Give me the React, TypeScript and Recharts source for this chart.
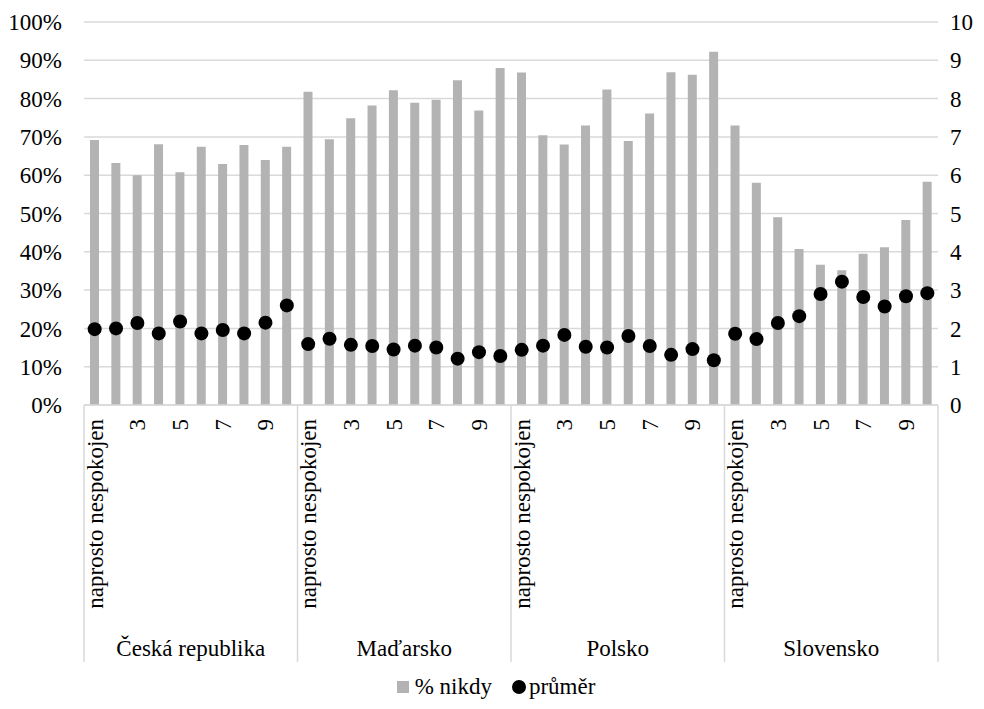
import React from 'react'
import { ComposedChart, Bar, Line, XAxis, YAxis, CartesianGrid, Legend } from 'recharts'

const categories = ['naprosto nespokojen', '2', '3', '4', '5', '6', '7', '8', '9', 'naprosto spokojen']
const countries = ['Česká republika', 'Maďarsko', 'Polsko', 'Slovensko']

const nikdyCZ = [69.2, 63.2, 60.0, 68.1, 60.8, 67.4, 62.9, 67.9, 64.0, 67.4]
const nikdyHU = [81.8, 69.4, 74.9, 78.2, 82.2, 78.9, 79.7, 84.8, 76.9, 88.0]
const nikdyPL = [86.8, 70.4, 68.0, 73.0, 82.4, 68.9, 76.1, 86.9, 86.2, 92.2]
const nikdySK = [73.0, 58.0, 49.0, 40.7, 36.6, 35.2, 39.5, 41.2, 48.3, 58.3]

const prumerCZ = [1.98, 2.0, 2.14, 1.87, 2.18, 1.87, 1.96, 1.87, 2.15, 2.6]
const prumerHU = [1.59, 1.73, 1.57, 1.54, 1.45, 1.55, 1.5, 1.21, 1.38, 1.28]
const prumerPL = [1.44, 1.55, 1.83, 1.52, 1.5, 1.8, 1.54, 1.31, 1.46, 1.17]
const prumerSK = [1.86, 1.72, 2.14, 2.32, 2.9, 3.22, 2.82, 2.57, 2.84, 2.92]

const leftTicks = [0, 10, 20, 30, 40, 50, 60, 70, 80, 90, 100]
const rightTicks = [0, 1, 2, 3, 4, 5, 6, 7, 8, 9, 10]

const nikdy = [nikdyCZ, nikdyHU, nikdyPL, nikdySK]
const prumer = [prumerCZ, prumerHU, prumerPL, prumerSK]

const data = countries.flatMap((country, c) =>
  categories.map((cat, i) => ({
    key: `${c}-${i}`,
    country,
    cat,
    pos: i,
    nikdy: nikdy[c][i],
    prumer: prumer[c][i],
  }))
)

const W = 976
const H = 701
const LEFT_W = 76
const RIGHT_W = 46
const PLOT_W = W - LEFT_W - RIGHT_W
const BAND = PLOT_W / data.length
const FONT = "Tinos, 'Liberation Serif', 'Times New Roman', Times, 'Noto Serif', 'DejaVu Serif', FreeSerif, serif"
const GRAY = '#d9d9d9'

function CategoryTick(props: any) {
  const { x, y, payload } = props
  const row = data[payload.index]
  if (!row) return null
  const showLabel = row.pos % 2 === 0
  return (
    <g>
      {row.pos === 0 && (
        <line x1={x - BAND / 2} x2={x - BAND / 2} y1={y} y2={y + 257} stroke={GRAY} strokeWidth={1.5} />
      )}
      {payload.index === data.length - 1 && (
        <line x1={x + BAND / 2} x2={x + BAND / 2} y1={y} y2={y + 257} stroke={GRAY} strokeWidth={1.5} />
      )}
      {showLabel && (
        <text
          x={x + 8}
          y={y + 14}
          transform={`rotate(-90, ${x + 8}, ${y + 14})`}
          textAnchor="end"
          fontSize={23}
          style={{ fontFamily: FONT }}
          fill="#000"
        >
          {row.cat}
        </text>
      )}
      {row.pos === 4 && (
        <text x={x + BAND / 2} y={y + 251} textAnchor="middle" fontSize={23} style={{ fontFamily: FONT }} fill="#000">
          {row.country}
        </text>
      )}
    </g>
  )
}

function LegendContent() {
  return (
    <div
      style={{
        height: 40,
        display: 'flex',
        justifyContent: 'center',
        alignItems: 'center',
        fontFamily: FONT,
        fontSize: 23,
        color: '#000',
      }}
    >
      <span style={{ display: 'inline-block', width: 12, height: 12, background: '#b3b3b3', marginRight: 6 }} />
      <span style={{ marginRight: 20 }}>% nikdy</span>
      <span style={{ display: 'inline-block', width: 14, height: 14, borderRadius: 7, background: '#000', marginRight: 3 }} />
      <span>průměr</span>
    </div>
  )
}

export default function App() {
  return (
    <div style={{ width: W, height: H, fontFamily: FONT }}>
      <ComposedChart width={W} height={H} data={data} margin={{ top: 14, right: 0, bottom: 2, left: 0 }} barCategoryGap={0}>
        <CartesianGrid vertical={false} stroke={GRAY} strokeWidth={1.5} yAxisId="left" />
        <XAxis
          dataKey="key"
          interval={0}
          height={262}
          tickSize={0}
          tickMargin={0}
          tick={<CategoryTick />}
          axisLine={{ stroke: GRAY, strokeWidth: 1.5 }}
          tickLine={false}
        />
        <YAxis
          yAxisId="left"
          domain={[0, 100]}
          ticks={leftTicks}
          width={LEFT_W}
          tickFormatter={(v: number) => `${v}%`}
          axisLine={false}
          tickLine={false}
          tickMargin={16}
          tick={{ fontSize: 23, fill: '#000', style: { fontFamily: FONT } }}
        />
        <YAxis
          yAxisId="right"
          orientation="right"
          domain={[0, 10]}
          ticks={rightTicks}
          width={RIGHT_W}
          axisLine={false}
          tickLine={false}
          tickMargin={6}
          tick={{ fontSize: 23, fill: '#000', textAnchor: 'start', style: { fontFamily: FONT } }}
        />
        <Legend verticalAlign="bottom" content={<LegendContent />} wrapperStyle={{ left: 0, width: W }} />
        <Bar yAxisId="left" dataKey="nikdy" name="% nikdy" fill="#b3b3b3" barSize={9} isAnimationActive={false} />
        <Line
          yAxisId="right"
          dataKey="prumer"
          name="průměr"
          stroke="none"
          dot={{ r: 7, fill: '#000', stroke: 'none' }}
          activeDot={false}
          isAnimationActive={false}
        />
      </ComposedChart>
    </div>
  )
}
